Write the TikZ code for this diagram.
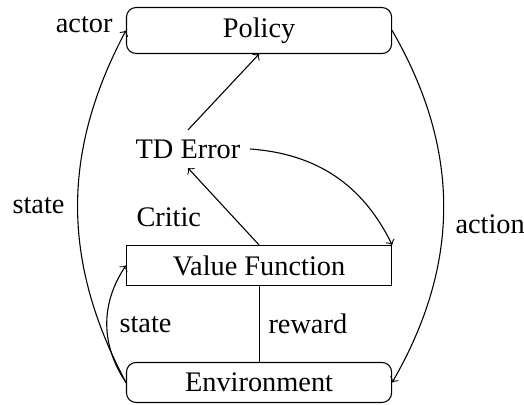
\documentclass[tikz,border=0pt]{standalone}
\usepackage{fontspec}
\setmainfont{Liberation Serif}
\usetikzlibrary{arrows}
\tikzstyle{roundbox}=[draw, rounded corners=3.5pt, minimum width=3.42cm, minimum height=0.516cm]
\tikzstyle{flatbox}=[draw, minimum width=3.42cm, minimum height=0.516cm]
\tikzstyle{lbl}=[inner sep=0pt]

\begin{document}
\begin{tikzpicture}[>=to, font=\fontsize{10.4}{12.5}\selectfont]
	\useasboundingbox (0,0) rectangle (6.76,-5.2245);
	\node[roundbox, minimum height=0.593cm] (policy) at (3.342,-0.3935) {Policy};
	\node[flatbox] (value) at (3.342,-3.425) {Value Function};
	\node[roundbox] (env) at (3.342,-4.934) {Environment};
	\node (td) at (2.425,-1.922) {TD Error};
	\node[lbl, anchor=base west] (critic) at (1.754,-2.928) {Critic};
	\node[lbl, anchor=base east] (actor) at (1.458,-0.413) {actor};
	\node[lbl, anchor=base west] (stateout) at (0.155,-2.748) {state};
	\node[lbl, anchor=base west] (action) at (5.870,-3.006) {action};
	\node[lbl, anchor=base west] (statein) at (1.535,-4.283) {state};
	\node[lbl, anchor=base west] (reward) at (3.457,-4.296) {reward};
	\draw[->] (env.west) to[bend left=28] (policy.west);
	\draw[->] (policy.east) to[bend left=30] (env.east);
	\draw[->] (env.west) to[bend left=34] (value.west);
	\draw[->] (value.north) -- (td.south);
	\draw[->] (td.north) -- (policy.south);
	\draw[->] (td.east) to[bend left=30] (value.north east);
	\draw (value.south) -- (env.north);
\end{tikzpicture}
\end{document}
